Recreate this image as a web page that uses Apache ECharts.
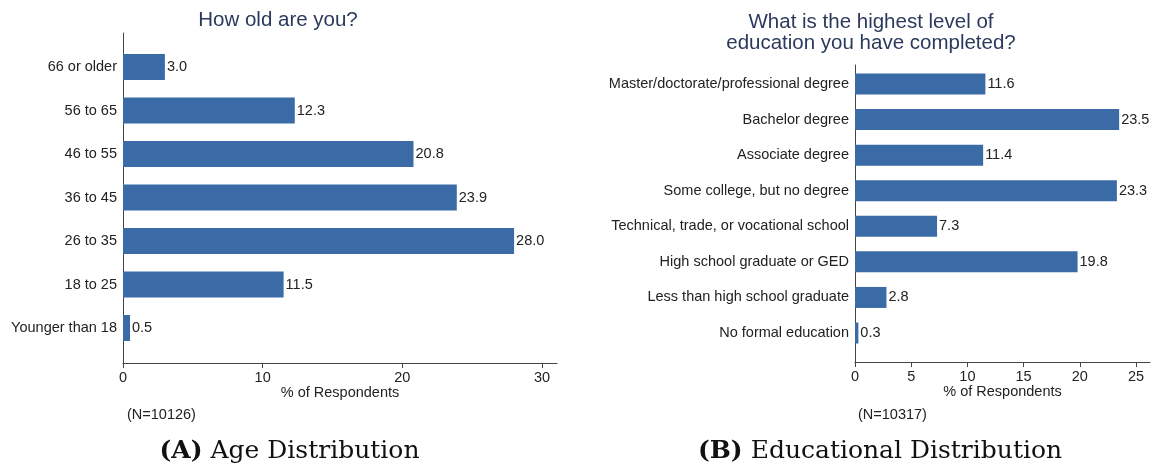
<!DOCTYPE html>
<html>
<head>
<meta charset="utf-8">
<script src="https://cdn.jsdelivr.net/npm/echarts@6/dist/echarts.min.js"></script>
<style>
  html, body { margin: 0; padding: 0; background: #fff; }
  #main { width: 1154px; height: 470px; }
</style>
</head>
<body>
<div id="main"></div>
<script>
// panel A: age, top to bottom
var ageLabels = ['66 or older', '56 to 65', '46 to 55', '36 to 45', '26 to 35', '18 to 25', 'Younger than 18'];
var ageValues = [3.0, 12.3, 20.8, 23.9, 28.0, 11.5, 0.5];
var ageTicks = [0, 10, 20, 30];

// panel B: education, top to bottom
var eduLabels = [
    'Master/doctorate/professional degree',
    'Bachelor degree',
    'Associate degree',
    'Some college, but no degree',
    'Technical, trade, or vocational school',
    'High school graduate or GED',
    'Less than high school graduate',
    'No formal education'
];
var eduValues = [11.6, 23.5, 11.4, 23.3, 7.3, 19.8, 2.8, 0.3];
var eduTicks = [0, 5, 10, 15, 20, 25];

var barColor = '#3b6ba7';
var txtColor = '#222';
var axisColor = '#444';
var sans = '"Liberation Sans", Arial, sans-serif';
var fs = 14.5;

// data grid + frame grid (Stata draws axes a bit outside the bars)
function dataX(grid, ticks) {
    return {
        type: 'value', gridIndex: grid,
        min: ticks[0], max: ticks[ticks.length - 1],
        interval: ticks[1] - ticks[0],
        offset: grid === 0 ? 13.25 : 11.2,
        axisLine: { show: false },
        axisTick: { show: true, length: 5, lineStyle: { color: axisColor } },
        axisLabel: { color: txtColor, fontSize: fs, fontFamily: sans, margin: 7 },
        splitLine: { show: false }
    };
}
function frameX(grid, max) {
    return {
        type: 'value', gridIndex: grid, min: 0, max: max,
        axisLine: { show: true, lineStyle: { color: axisColor, width: 1 } },
        axisTick: { show: false }, axisLabel: { show: false }, splitLine: { show: false },
        name: '% of Respondents', nameLocation: 'middle', nameGap: 22,
        nameTextStyle: { color: txtColor, fontSize: fs, fontFamily: sans }
    };
}
function frameY(grid) {
    return {
        type: 'value', gridIndex: grid, min: 0, max: 1,
        axisLine: { show: true, lineStyle: { color: axisColor, width: 1 } },
        axisTick: { show: false }, axisLabel: { show: false }, splitLine: { show: false }
    };
}
function catY(grid, labels) {
    return {
        type: 'category', gridIndex: grid, data: labels, inverse: true,
        axisLine: { show: false }, axisTick: { show: false },
        axisLabel: { color: txtColor, fontSize: fs, fontFamily: sans, margin: 6 }
    };
}
function bars(idx, values, width) {
    return {
        type: 'bar', xAxisIndex: idx, yAxisIndex: idx, data: values,
        barWidth: width, silent: true,
        itemStyle: { color: barColor },
        label: {
            show: true, position: 'right', distance: 2,
            color: txtColor, fontSize: fs, fontFamily: sans,
            formatter: function (p) { return p.value.toFixed(1); }
        }
    };
}

var myChart = echarts.init(document.getElementById('main'));
var option = {
    backgroundColor: '#fff',
    animation: false,
    grid: [
        { left: 123, top: 45.25, width: 419, height: 304.5 },
        { left: 855, top: 66.2, width: 281, height: 284.6 },
        { left: 123, top: 33, width: 434, height: 330 },
        { left: 855, top: 65, width: 295, height: 297 }
    ],
    xAxis: [
        dataX(0, ageTicks),
        dataX(1, eduTicks),
        frameX(2, 31.07),
        frameX(3, 26.25)
    ],
    yAxis: [
        catY(0, ageLabels),
        catY(1, eduLabels),
        frameY(2),
        frameY(3)
    ],
    series: [
        bars(0, ageValues, 26),
        bars(1, eduValues, 21)
    ],
    graphic: [
        { type: 'text', x: 278, y: 20, style: { text: 'How old are you?', fill: '#2b3a5c',
            font: '20.5px ' + sans, align: 'center', verticalAlign: 'middle' } },
        { type: 'text', x: 871, y: 32.5, style: { text: 'What is the highest level of\neducation you have completed?',
            fill: '#2b3a5c', font: '20.5px ' + sans, lineHeight: 21, align: 'center', verticalAlign: 'middle' } },
        { type: 'text', x: 127, y: 415, style: { text: '(N=10126)', fill: txtColor,
            font: fs + 'px ' + sans, verticalAlign: 'middle' } },
        { type: 'text', x: 858, y: 415, style: { text: '(N=10317)', fill: txtColor,
            font: fs + 'px ' + sans, verticalAlign: 'middle' } },
        { type: 'text', x: 289.5, y: 451, style: { text: '{b|(A)} Age Distribution', fill: '#111',
            font: '25px "DejaVu Serif", serif', align: 'center', verticalAlign: 'middle',
            rich: { b: { fontWeight: 'bold', fontSize: 25, fontFamily: '"DejaVu Serif", serif', fill: '#111' } } } },
        { type: 'text', x: 880, y: 451, style: { text: '{b|(B)} Educational Distribution', fill: '#111',
            font: '25px "DejaVu Serif", serif', align: 'center', verticalAlign: 'middle',
            rich: { b: { fontWeight: 'bold', fontSize: 25, fontFamily: '"DejaVu Serif", serif', fill: '#111' } } } }
    ]
};
myChart.setOption(option);
</script>
</body>
</html>
